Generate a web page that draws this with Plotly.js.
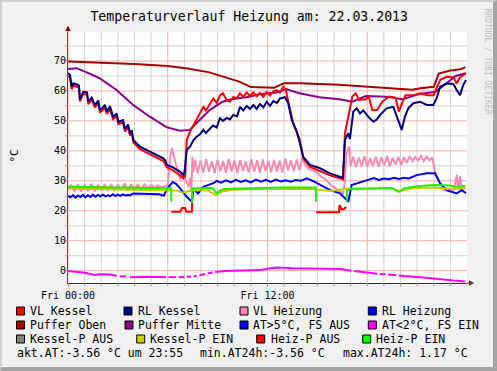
<!DOCTYPE html>
<html><head><meta charset="utf-8">
<script src="https://cdn.plot.ly/plotly-3.0.1.min.js"></script>
<style>
html,body{margin:0;padding:0;background:#f0f0f0;}
#wrap{position:relative;width:497px;height:371px;overflow:hidden;}
#chart{width:497px;height:371px;}
#frame{position:absolute;left:0;top:0;width:497px;height:371px;box-sizing:border-box;border-top:2px solid #cfcfcf;border-left:2px solid #cfcfcf;border-right:4px solid #a4a4a4;border-bottom:4px solid #a4a4a4;pointer-events:none;}
</style></head><body>
<div id="wrap"><div id="chart"></div><div id="frame"></div></div>
<script>
// ---- data (hours since Fri 00:00, °C) ----
const tPufferOben = [0,2,4,6,7.2,8.5,9.5,10.3,11,12.4,13.0,14,16.3,18,20.7,21.2,22.0,22.3,23.0,23.6,23.9];
const pufferOben  = [69.8,69.5,69.0,68.3,67.5,66.2,64.5,63.1,61.3,61.1,62.6,62.6,62.1,61.5,60.4,60.9,61.4,65.8,66.8,67.2,67.9];

const tPufferMitte = [0,0.52,1.12,1.92,2.92,3.92,4.92,5.92,6.72,7.32,7.92,8.52,9.3,9.9,10.72,11.52,12.52,13.12,13.92,14.52,15.12,16.32,17.1,17.92,19.12,20.12,21.12,22.12,22.72,23.32,23.92];
const pufferMitte  = [67.3,67.6,66.2,64.2,60.3,55.3,51.4,47.9,46.7,47.0,50.3,53.6,56.4,57.3,57.9,58.9,59.5,60.6,59.2,58.6,57.9,57.2,56.4,58.3,58.1,57.2,59.0,59.7,62.5,65.0,65.9];

const tVLKessel = [0,0.12,0.22,0.32,0.48,0.66,0.72,0.92,1.14,1.22,1.43,1.62,1.82,1.92,2.23,2.33,2.53,2.71,2.93,3.03,3.31,3.43,3.61,3.73,3.83,3.93,4.33,4.93,5.73,5.94,6.32,6.74,6.94,7.05,7.14,7.34,7.54,7.74,7.94,8.14,8.30,8.54,8.74,8.94,9.14,9.32,9.54,9.74,9.94,10.14,10.34,10.55,10.75,10.95,11.15,11.35,11.55,11.75,11.95,12.15,12.35,12.55,12.75,12.95,13.10,13.25,13.55,13.95,14.15,14.56,15.16,15.76,16.36,16.54,16.66,16.90,17.10,17.30,17.50,17.90,18.10,18.30,18.60,18.90,19.30,19.70,19.90,20.10,20.30,20.80,21.20,21.60,22.00,22.20,22.40,22.80,23.20,23.38,23.58,23.94];
const vlKessel  = [65.0,64.5,60.6,61.8,61.5,61.0,56.5,59.0,58.8,55.6,57.0,54.5,56.0,52.8,54.5,52.3,54.0,50.6,51.7,48.9,49.5,46.4,48.0,45.1,46.0,42.8,40.6,38.8,36.6,34.5,33.5,31.8,30.8,31.5,43.6,46.4,48.5,50.9,52.5,54.7,53.5,55.5,57.5,56.0,58.5,59.2,57.0,56.4,58.0,57.5,59.2,58.0,59.5,58.3,59.5,58.2,59.3,58.0,59.6,58.5,59.8,60.3,59.5,61.4,60.5,56.4,49.2,43.6,37.5,34.6,33.3,31.8,30.8,30.4,45.9,52.5,58.1,59.2,57.0,57.2,58.0,53.6,53.6,56.4,58.1,57.8,53.1,56.0,58.6,58.6,59.2,58.6,58.6,61.4,63.7,64.8,64.5,62.5,64.5,65.9];

const tRLKessel = [0,0.12,0.22,0.32,0.48,0.66,0.72,0.92,1.14,1.22,1.43,1.62,1.82,1.92,2.23,2.33,2.53,2.71,2.93,3.03,3.31,3.43,3.61,3.73,3.83,3.93,4.33,4.93,5.73,5.86,5.94,6.32,6.74,6.94,7.01,7.14,7.34,7.54,7.74,7.94,8.14,8.30,8.54,8.72,8.94,9.14,9.32,9.55,9.74,9.94,10.17,10.35,10.54,10.75,10.95,11.15,11.35,11.55,11.75,11.95,12.15,12.35,12.57,12.75,13.05,13.25,13.46,13.76,13.95,14.15,14.56,15.16,15.76,16.36,16.54,16.66,16.86,16.96,17.16,17.37,17.56,17.76,18.06,18.36,18.57,18.77,19.17,19.57,19.87,20.07,20.27,20.47,20.77,21.17,21.58,21.97,22.17,22.38,22.78,23.18,23.38,23.58,23.78,23.94];
const rlKessel  = [65.9,65.3,61.4,62.5,62.3,61.8,57.2,59.7,59.5,56.4,57.8,55.3,56.8,53.6,55.3,53.1,54.9,51.4,52.5,49.7,50.3,47.2,48.8,45.9,46.9,43.6,41.4,39.7,37.5,36.8,35.3,34.5,33.0,31.9,33.0,40.3,41.4,43.5,44.7,45.5,47.0,46.0,47.5,48.5,47.8,50.9,50.0,51.0,50.5,52.0,51.5,54.7,53.5,55.0,54.0,55.3,54.0,55.6,54.5,56.4,55.0,56.6,56.0,57.5,57.9,55.9,50.3,46.4,42.5,38.0,35.3,34.2,32.5,31.4,31.0,43.6,45.9,44.0,53.1,54.2,52.5,53.5,51.4,49.7,50.5,52.0,54.2,54.7,50.3,47.0,51.5,54.2,55.9,56.4,55.3,55.3,57.5,61.4,62.5,62.3,60.3,58.6,62.0,63.7];

const tVLHeizung = [0,0.2,0.4,0.6,0.8,1.0,1.2,1.4,1.6,1.8,2.0,2.2,2.4,2.6,2.8,3.0,3.2,3.4,3.6,3.8,4.0,4.2,4.4,4.6,4.8,5.0,5.2,5.4,5.6,5.8,
 6.0,6.15,6.25,6.35,6.5,6.65,6.75,6.85,6.95,7.1,7.25,7.35,7.42,7.48,7.55,7.65,
 7.8,7.97,8.14,8.31,8.48,8.65,8.82,8.99,9.16,9.33,9.5,9.67,9.84,10.01,10.18,10.35,10.52,10.69,10.86,11.03,11.2,11.37,11.54,11.71,11.88,12.05,12.22,12.39,12.56,12.73,12.9,13.07,13.24,13.41,13.58,13.75,13.92,14.09,
 14.3,14.5,14.9,15.2,15.5,15.8,16.1,16.3,16.55,16.65,16.75,16.9,17.0,
 17.15,17.32,17.49,17.66,17.83,18.0,18.17,18.34,18.51,18.68,18.85,19.02,19.19,19.36,19.53,19.7,19.87,20.04,20.21,20.38,20.55,20.72,20.89,21.06,21.23,21.4,21.57,21.74,21.91,
 22.1,22.3,22.6,23.0,23.2,23.3,23.38,23.48,23.58,23.68,23.9];
const vlHeizung = [27.2,28.6,26.5,28.8,26.4,28.7,26.6,29.0,26.5,28.8,26.8,28.9,26.7,29.0,26.6,28.8,26.9,29.1,26.8,28.9,27.0,28.7,27.2,28.8,27.4,28.6,27.8,28.5,27.9,28.2,
 28.5,38.0,41.0,38.5,35.5,33.0,30.5,33.0,31.5,30.0,28.0,31.0,26.9,38.0,33.0,37.0,
 32.5,36.8,32.8,37.2,33.0,36.5,32.6,37.0,33.2,36.6,32.7,37.3,33.0,36.8,32.6,37.0,33.4,36.5,32.8,37.2,33.0,36.9,32.7,37.1,33.3,36.6,32.9,37.0,33.1,36.8,32.8,37.4,33.5,36.9,33.2,37.1,33.6,37.5,
 35.0,34.0,33.0,31.5,30.5,28.6,27.5,26.8,25.8,30.0,39.2,41.4,35.0,
 38.0,34.5,37.8,34.8,38.2,34.6,37.6,35.0,38.0,34.7,37.9,35.2,38.3,34.9,37.7,35.5,38.0,35.3,37.8,36.0,38.2,36.5,38.0,36.8,38.3,36.6,38.1,36.9,37.8,
 32.5,30.0,26.9,26.4,27.0,29.5,32.0,27.0,31.5,27.2,27.6];

const tRLHeizung = [0,0.15,0.3,0.45,0.6,0.75,0.9,1.05,1.2,1.35,1.5,1.65,1.8,1.95,2.1,2.25,2.4,2.55,2.7,2.85,3.0,3.15,3.3,3.45,3.6,3.75,3.93,
 4.5,5.0,5.5,5.75,6.05,6.3,6.5,6.74,7.14,7.46,7.54,7.82,8.14,8.74,8.94,
 9.2,9.5,9.8,10.1,10.4,10.7,11.0,11.3,11.6,11.9,12.2,12.5,12.8,13.1,13.4,13.7,14.0,
 14.35,14.75,15.16,15.76,16.36,16.66,16.86,17.06,17.37,17.76,
 18.1,18.4,18.7,19.0,19.3,19.6,19.9,20.2,20.5,
 20.97,21.58,22.07,22.38,22.78,23.38,23.68,23.94];
const rlHeizung = [25.0,24.5,25.2,24.4,25.1,24.6,25.3,24.5,25.2,24.6,25.4,24.7,25.3,24.8,25.4,24.8,25.2,24.9,25.5,24.9,25.4,25.0,25.5,25.1,25.3,25.2,25.8,
 25.7,25.6,25.5,25.0,28.0,29.6,29.0,27.5,24.7,23.0,27.5,25.8,28.0,29.2,30.0,
 29.4,30.2,29.5,30.3,29.6,30.2,29.5,30.4,29.7,30.3,29.6,30.4,29.8,30.2,29.7,30.3,30.0,
 30.8,29.9,28.6,26.9,25.8,24.2,23.0,28.6,29.2,30.0,
 30.4,30.9,30.3,30.8,30.5,31.0,30.6,31.0,30.8,
 31.9,32.5,32.5,29.2,26.9,25.8,26.9,25.9];

const tKesselPEin = [0,2,4,6,6.5,6.9,7.2,7.6,8.4,8.9,9.3,9.9,11.5,14.6,15.8,16.3,16.9,19.5,19.9,20.7,22.1,23.1,23.9];
const kesselPEin  = [27.4,27.2,27.0,26.9,26.8,26.0,26.5,26.9,26.8,25.3,26.5,27.0,27.3,27.3,26.6,27.0,27.4,27.4,26.6,27.5,27.8,27.2,27.7];

const tHeizPAus = [6.22,6.74,6.86,7.04,7.12,7.45,7.47,7.48,14.93,16.30,16.34,16.45,16.60,16.66,16.76];
const heizPAus  = [19.7,19.7,20.9,20.9,19.7,19.7,22.7,null,19.5,19.5,21.9,20.5,20.5,21.0,21.0];

const tHeizPEin = [0,2,4,6.2,6.22,6.23,7.46,7.48,8.0,8.7,8.85,8.95,9.15,9.4,11,13,14.9,14.92,14.93,16.33,16.37,16.4,16.76,16.78,17.0,18,19.5,19.85,20.0,20.2,21.1,22.1,23.0,23.4,23.9];
const heizPEin  = [28.0,27.9,27.8,27.5,23.0,null,22.7,27.5,27.5,27.6,26.5,25.8,26.8,27.3,27.5,27.8,27.8,23.0,null,22.2,22.2,null,23.0,26.7,27.3,27.5,27.6,26.4,26.5,27.5,28.3,28.6,28.4,28.0,28.3];

const tAussen = [0,0.5,0.72,1.0,1.6,1.9,2.5,2.8,2.92,2.98,3.12,3.5,3.56,3.72,3.9,4.3,5.0,5.9,5.95,6.05,6.5,6.55,6.65,7.0,7.05,7.15,7.4,7.45,7.55,7.75,7.8,7.9,8.25,8.3,8.4,8.7,8.75,8.85,9.5,10.5,11.5,12.2,12.6,13.5,15.2,16.4,17.05,17.1,17.2,18.2,18.6,18.65,18.75,19.1,19.15,19.25,19.75,19.8,19.9,20.2,21.2,22.2,23.2,23.9];
const aussen  = [-0.1,-0.3,-0.5,-0.7,-1.4,-1.2,-1.3,-1.5,-1.9,null,-1.9,-1.9,null,-2.1,-2.2,-2.0,-2.0,-2.1,null,-2.1,-2.2,null,-2.2,-2.1,null,-2.0,-2.0,null,-1.9,-1.7,null,-1.5,-1.1,null,-0.9,-0.6,null,-0.4,-0.1,0.1,0.2,0.8,1.1,0.8,0.6,0.6,0.0,null,-0.1,-0.9,-1.0,null,-1.1,-1.2,null,-1.3,-1.5,null,-1.6,-1.8,-2.2,-2.8,-3.3,-3.56];

const xTickVals = [0,12];
const xTickText = ['Fri 00:00','Fri 12:00'];

const legendLabels = ['VL Kessel','RL Kessel','VL Heizung','RL Heizung','Puffer Oben','Puffer Mitte','AT&gt;5°C, FS AUS','AT&lt;2°C, FS EIN','Kessel-P AUS','Kessel-P EIN','Heiz-P AUS','Heiz-P EIN'];
const legendColors = ['#ff0000','#000080','#ff88b0','#0000ff','#aa0000','#880088','#0000ff','#ff00ff','#808080','#cccc00','#ff0000','#00ff00'];
const statText = ['akt.AT:-3.56 °C um 23:55','min.AT24h:-3.56 °C','max.AT24h: 1.17 °C'];
const titleText = 'Temperaturverlauf Heizung am: 22.03.2013';

// ---- layout helpers (pixel -> paper) ----
const L=68,R=467,T=32,B=283;
function px(x){return (x-L)/(R-L);} function py(y){return (B-y)/(B-T);}
const MONO='DejaVu Sans Mono, monospace';
const X0=0,X1=24,Y0=-4.1,Y1=79.67;

function line(x,y,c,w){return {x:x,y:y,type:'scatter',mode:'lines',line:{color:c,width:w||2,shape:'linear'},connectgaps:false,hoverinfo:'skip',showlegend:false};}

// grid: one trace per grid line (minor gray every 1h / 5°C, major pink every 6h / 10°C)
const MINOR='#d2d2d2', MAJOR='#f2aaaa';
const gridTraces=[];
function gl(x,y,c){gridTraces.push({x:x,y:y,type:'scatter',mode:'lines',line:{color:c,width:1},hoverinfo:'skip',showlegend:false});}
for(let h=1;h<24;h++) if(h%6) gl([h,h],[Y0,Y1],MINOR);
for(let v=5;v<=75;v+=10) gl([X0,X1],[v,v],MINOR);
for(let h=0;h<24;h+=6) gl([h,h],[Y0,Y1],MAJOR);
for(let v=0;v<=70;v+=10) gl([X0,X1],[v,v],MAJOR);

const traces=gridTraces.concat([
 line(tPufferOben,pufferOben,'#aa0000'),
 line(tPufferMitte,pufferMitte,'#880088'),
 line(tVLHeizung,vlHeizung,'#ff88b0'),
 line(tRLHeizung,rlHeizung,'#0000ff'),
 line(tVLKessel,vlKessel,'#ff0000'),
 line(tRLKessel,rlKessel,'#000080'),
 line(tKesselPEin,kesselPEin,'#c8c800'),
 line(tHeizPAus,heizPAus,'#ff0000'),
 line(tHeizPEin,heizPEin,'#22ee00'),
 line(tAussen,aussen,'#ff00ff')
]);

const shapes=[], ann=[];
for(let h=0;h<=24;h++){ shapes.push({type:'line',xref:'x',yref:'paper',x0:h,x1:h,y0:py(283),y1:py(286),line:{color:'#999',width:1}}); }
for(let v=0;v<=75;v+=5){ shapes.push({type:'line',xref:'paper',yref:'y',x0:px(65),x1:px(68),y0:v,y1:v,line:{color:'#999',width:1}}); }
// arrows
shapes.push({type:'path',xref:'paper',yref:'paper',path:`M ${px(68)},${py(25.5)} L ${px(65.2)},${py(31)} L ${px(70.8)},${py(31)} Z`,fillcolor:'#7f1f1f',line:{width:0}});
shapes.push({type:'path',xref:'paper',yref:'paper',path:`M ${px(474)},${py(283)} L ${px(469)},${py(280.3)} L ${px(469)},${py(285.7)} Z`,fillcolor:'#7f1f1f',line:{width:0}});
shapes.push({type:'line',xref:'paper',yref:'paper',x0:px(467),x1:px(469.5),y0:py(283),y1:py(283),line:{color:'#333',width:1}});
shapes.push({type:'line',xref:'paper',yref:'paper',x0:px(68),x1:px(68),y0:py(31),y1:py(32),line:{color:'#8a3a3a',width:1}});

// legend
const swX=[[16.5,124,240,368.3],[16.5,125,240,368.3],[16.5,136.7,256.7,362.7]];
const txX=[[30,138.3,253.3,381.7],[30.3,138.3,253.3,382.3],[30.3,150,270.7,376]];
const rowY=[311,325,339];
for(let r=0;r<3;r++)for(let c=0;c<4;c++){
 const i=r*4+c, x0=swX[r][c], y0=rowY[r];
 shapes.push({type:'rect',xref:'paper',yref:'paper',x0:px(x0),x1:px(x0+8),y0:py(y0-4),y1:py(y0+4),fillcolor:legendColors[i],line:{color:'#000',width:1}});
 ann.push({xref:'paper',yref:'paper',x:px(txX[r][c]),y:py(y0),xanchor:'left',yanchor:'middle',text:legendLabels[i],showarrow:false,borderpad:0,borderwidth:0,font:{family:MONO,size:11.5,color:'#000'}});
}
const stX=[16.7,200,342.7];
for(let k=0;k<3;k++) ann.push({xref:'paper',yref:'paper',x:px(stX[k]),y:py(353.3),xanchor:'left',yanchor:'middle',text:statText[k],showarrow:false,borderpad:0,borderwidth:0,font:{family:MONO,size:11.5,color:'#000'}});
// y unit
ann.push({xref:'paper',yref:'paper',x:px(13.5),y:py(156),xanchor:'center',yanchor:'middle',text:'°C',textangle:-90,showarrow:false,borderpad:0,borderwidth:0,font:{family:MONO,size:11,color:'#000'}});
// watermark
ann.push({xref:'paper',yref:'paper',x:px(487.5),y:py(61),xanchor:'center',yanchor:'middle',text:'RRDTOOL / TOBI OETIKER',textangle:90,showarrow:false,borderpad:0,borderwidth:0,font:{family:MONO,size:8,color:'#bdbdbd'}});

const layout={
 width:497,height:371,margin:{l:L,r:497-R,t:T,b:371-B,pad:0},
 paper_bgcolor:'#f0f0f0',plot_bgcolor:'#ffffff',showlegend:false,
 title:{text:titleText,xref:'container',yref:'container',x:249.2/497,y:1-16/371,xanchor:'center',yanchor:'middle',font:{family:MONO,size:13.2,color:'#000'}},
 xaxis:{range:[X0,X1],tickmode:'array',tickvals:xTickVals,ticktext:xTickText,showgrid:false,
   ticks:'outside',ticklen:3,tickcolor:'#999',showline:true,linecolor:'#333',linewidth:1,zeroline:false,fixedrange:true,
   tickfont:{family:MONO,size:10,color:'#000'}},
 yaxis:{range:[Y0,Y1],tickmode:'linear',tick0:0,dtick:10,showgrid:false,
   ticks:'outside',ticklen:3,tickcolor:'#999',showline:true,linecolor:'#8a3a3a',linewidth:1,zeroline:false,fixedrange:true,
   ticklabelstandoff:-4,
   tickfont:{family:MONO,size:10,color:'#000'}},
 shapes:shapes,annotations:ann
};
Plotly.newPlot('chart',traces,layout,{staticPlot:true,displayModeBar:false});
</script></body></html>
